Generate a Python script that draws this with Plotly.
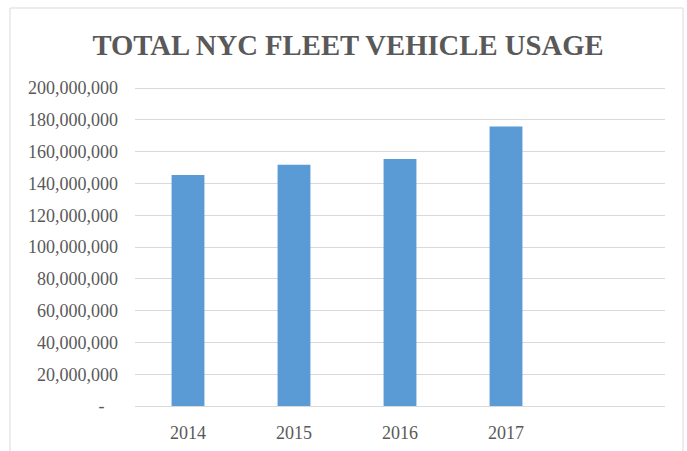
import plotly.graph_objects as go

# Data
years = ["2014", "2015", "2016", "2017"]
usage = [145_300_000, 151_700_000, 155_400_000, 175_800_000]
y_ticks = [0, 20_000_000, 40_000_000, 60_000_000, 80_000_000, 100_000_000,
           120_000_000, 140_000_000, 160_000_000, 180_000_000, 200_000_000]
y_ticktext = ["-\u00a0\u00a0\u00a0" if v == 0 else f"{v:,}" for v in y_ticks]
n_slots = 5  # Excel category axis has an extra empty slot after 2017

positions = list(range(len(years)))

W, H = 687, 451
L, R, T, B = 135, 22, 86, 45
pw = W - L - R
ph = H - T - B
y_top = 200_000_000 * ph / (ph - 2)  # leave 2px headroom so the top gridline shows

fig = go.Figure()
fig.add_trace(go.Bar(
    x=positions, y=usage, width=0.31,
    marker=dict(color="#5B9BD5", line=dict(width=0)),
    hoverinfo="y",
))

font_serif = "Liberation Serif, Times New Roman, serif"

fig.update_layout(
    width=W, height=H,
    margin=dict(l=L, r=R, t=T, b=B, autoexpand=False),
    paper_bgcolor="white", plot_bgcolor="white",
    showlegend=False,
    title=dict(
        text="<b>TOTAL NYC FLEET VEHICLE USAGE</b>",
        font=dict(family=font_serif, size=28.7, color="#595959"),
        xref="container", x=348 / W, xanchor="center",
        yref="container", y=1 - 45 / H, yanchor="middle",
    ),
    xaxis=dict(
        range=[-0.5, n_slots - 0.5],
        tickvals=positions, ticktext=years,
        showgrid=False, zeroline=False, showline=False,
        ticks="", ticklabelstandoff=14, automargin=False,
        tickfont=dict(family=font_serif, size=18, color="#595959"),
        fixedrange=True,
    ),
    yaxis=dict(
        range=[0, y_top],
        tickvals=y_ticks, ticktext=y_ticktext,
        showgrid=True, gridcolor="#D9D9D9", gridwidth=1,
        zeroline=True, zerolinecolor="#D9D9D9", zerolinewidth=1,
        showline=False, ticks="", ticklabelstandoff=16, automargin=False,
        tickfont=dict(family=font_serif, size=18, color="#595959"),
        fixedrange=True,
    ),
    shapes=[dict(
        type="rect", xref="paper", yref="paper",
        x0=(10 - L) / pw, x1=(683 - L) / pw,
        y0=-(B + 5) / ph, y1=1 + (T - 8) / ph,
        line=dict(color="#D9D9D9", width=1), fillcolor="rgba(0,0,0,0)",
        layer="below",
    )],
)

fig.write_html(
    "out.html",
    config={"displayModeBar": False},
    post_script="document.body.style.margin='0';document.body.style.overflow='hidden';",
)
